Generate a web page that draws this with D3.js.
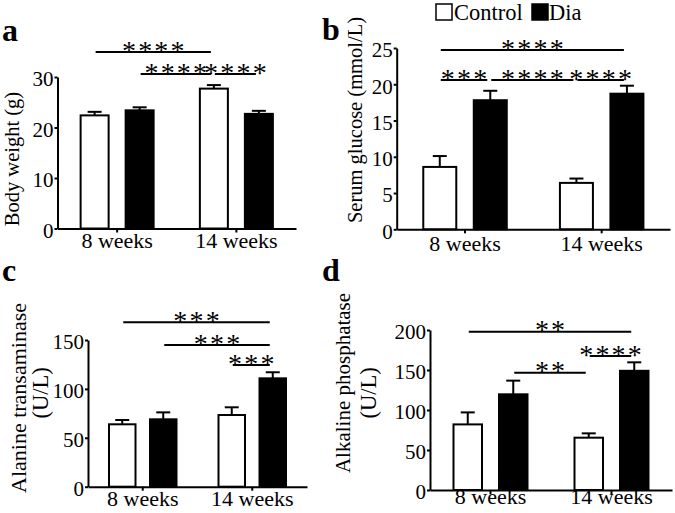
<!DOCTYPE html>
<html>
<head>
<meta charset="utf-8">
<script src="https://cdn.jsdelivr.net/npm/d3@7/dist/d3.min.js"></script>
<style>
  html, body { margin: 0; padding: 0; background: #fff; }
  svg { display: block; }
  svg text { font-family: "Liberation Serif", "Times New Roman", "Liberation Sans", Arial, sans-serif; fill: #000; }
</style>
</head>
<body>
<svg id="chart" width="675" height="513"></svg>
<script>
// ---------- data ----------
const groups = ["8 weeks", "14 weeks"];
const series = ["Control", "Dia"];

const weightControl = [22.4, 27.7];
const weightControlErr = [0.7, 0.7];
const weightDia = [23.4, 22.7];
const weightDiaErr = [0.6, 0.6];
const weightTicks = [0, 10, 20, 30];

const glucoseControl = [8.6, 6.4];
const glucoseControlErr = [1.5, 0.6];
const glucoseDia = [17.8, 18.7];
const glucoseDiaErr = [1.3, 1.1];
const glucoseTicks = [0, 5, 10, 15, 20, 25];

const altControl = [63.8, 73.3];
const altControlErr = [4.4, 7.9];
const altDia = [68.9, 110.8];
const altDiaErr = [7.1, 6.2];
const altTicks = [0, 50, 100, 150];

const alpControl = [82, 65.4];
const alpControlErr = [15, 5.4];
const alpDia = [119.6, 149];
const alpDiaErr = [17.1, 10.6];
const alpTicks = [0, 50, 100, 150, 200];

// significance comparisons: [group, series] -> [group, series], bracket rank, label
const weightSig = [
  { from: ["8 weeks", "Control"], to: ["14 weeks", "Control"], rank: 0, label: "****" },
  { from: ["8 weeks", "Dia"], to: ["14 weeks", "Control"], rank: 1, label: "****" },
  { from: ["14 weeks", "Control"], to: ["14 weeks", "Dia"], rank: 1, label: "****" }
];
const glucoseSig = [
  { from: ["8 weeks", "Control"], to: ["14 weeks", "Dia"], rank: 0, label: "****" },
  { from: ["8 weeks", "Control"], to: ["8 weeks", "Dia"], rank: 1, label: "***" },
  { from: ["8 weeks", "Dia"], to: ["14 weeks", "Control"], rank: 1, label: "****" },
  { from: ["14 weeks", "Control"], to: ["14 weeks", "Dia"], rank: 1, label: "****" }
];
const altSig = [
  { from: ["8 weeks", "Control"], to: ["14 weeks", "Dia"], rank: 0, label: "***" },
  { from: ["8 weeks", "Dia"], to: ["14 weeks", "Dia"], rank: 1, label: "***" },
  { from: ["14 weeks", "Control"], to: ["14 weeks", "Dia"], rank: 2, label: "***" }
];
const alpSig = [
  { from: ["8 weeks", "Control"], to: ["14 weeks", "Dia"], rank: 0, label: "**" },
  { from: ["14 weeks", "Control"], to: ["14 weeks", "Dia"], rank: 1, label: "****" },
  { from: ["8 weeks", "Dia"], to: ["14 weeks", "Control"], rank: 2, label: "**" }
];

// ---------- layout ----------
const panels = [
  {
    letter: "a", letterPos: [2, 41],
    values: [weightControl, weightDia], errs: [weightControlErr, weightDiaErr],
    ticks: weightTicks, sig: weightSig,
    xRange: [57.5, 296], yRange: [228.5, 77], bw: 28, sep: 45,
    rowY: [52, 74], xLabelY: 19.5,
    yLabels: [{ text: "Body weight (g)", x: 18.5, y: 159, size: 20.5 }]
  },
  {
    letter: "b", letterPos: [322, 40],
    values: [glucoseControl, glucoseDia], errs: [glucoseControlErr, glucoseDiaErr],
    ticks: glucoseTicks, sig: glucoseSig,
    xRange: [396.7, 670], yRange: [229.3, 48], bw: 33, sep: 50.5,
    rowY: [50, 80], xLabelY: 21.5,
    yLabels: [{ text: "Serum glucose (mmol/L)", x: 362, y: 120, size: 20.5 }]
  },
  {
    letter: "c", letterPos: [2, 281],
    values: [altControl, altDia], errs: [altControlErr, altDiaErr],
    ticks: altTicks, sig: altSig,
    xRange: [88, 307], yRange: [486.7, 340], bw: 26.5, sep: 41,
    rowY: [322.3, 345, 365], xLabelY: 19.5,
    yLabels: [
      { text: "Alanine transaminase", x: 26, y: 398, size: 22 },
      { text: "(U/L)", x: 47.5, y: 393, size: 22.5 }
    ]
  },
  {
    letter: "d", letterPos: [322, 281],
    values: [alpControl, alpDia], errs: [alpControlErr, alpDiaErr],
    ticks: alpTicks, sig: alpSig,
    xRange: [430, 672], yRange: [490, 330], bw: 28.5, sep: 45.5,
    rowY: [331.7, 356, 372.7], xLabelY: 14,
    yLabels: [
      { text: "Alkaline phosphatase", x: 350, y: 383, size: 21 },
      { text: "(U/L)", x: 376, y: 393, size: 22.5 }
    ]
  }
];

const svg = d3.select("#chart");
svg.append("rect").attr("width", 675).attr("height", 513).attr("fill", "#fff");

function drawPanel(cfg) {
  const g = svg.append("g");
  const x = d3.scaleBand().domain(groups).range(cfg.xRange).paddingInner(0).paddingOuter(0);
  const xs = d3.scalePoint().domain(series).range([-cfg.sep / 2, cfg.sep / 2]);
  const y = d3.scaleLinear().domain([0, d3.max(cfg.ticks)]).range(cfg.yRange);
  const xc = (grp, s) => x(grp) + x.bandwidth() / 2 + xs(s);

  const rows = [];
  series.forEach((s, si) => groups.forEach((grp, gi) => {
    rows.push({ grp, s, v: cfg.values[si][gi], e: cfg.errs[si][gi] });
  }));

  // error bars (upper only)
  g.selectAll("line.errv").data(rows).join("line")
    .attr("x1", d => xc(d.grp, d.s)).attr("x2", d => xc(d.grp, d.s))
    .attr("y1", d => y(d.v)).attr("y2", d => y(d.v + d.e))
    .attr("stroke", "#000").attr("stroke-width", 2);
  g.selectAll("line.errc").data(rows).join("line")
    .attr("x1", d => xc(d.grp, d.s) - 7).attr("x2", d => xc(d.grp, d.s) + 7)
    .attr("y1", d => y(d.v + d.e)).attr("y2", d => y(d.v + d.e))
    .attr("stroke", "#000").attr("stroke-width", 2);

  // bars
  g.selectAll("rect.bar").data(rows).join("rect")
    .attr("x", d => xc(d.grp, d.s) - cfg.bw / 2)
    .attr("y", d => y(d.v))
    .attr("width", cfg.bw)
    .attr("height", d => y(0) - y(d.v))
    .attr("fill", d => d.s === "Control" ? "#fff" : "#000")
    .attr("stroke", "#000").attr("stroke-width", 2);

  // y axis
  const ya = g.append("g")
    .attr("transform", `translate(${cfg.xRange[0]},0)`)
    .call(d3.axisLeft(y).tickValues(cfg.ticks).tickSize(3).tickSizeOuter(0).tickPadding(1).tickFormat(d3.format("d")));
  ya.attr("font-family", null);
  ya.select(".domain").attr("stroke-width", 2);
  ya.selectAll(".tick line").attr("stroke-width", 2);
  ya.selectAll(".tick text").attr("font-size", 21).attr("dy", "0.42em");

  // x axis
  const xa = g.append("g")
    .attr("transform", `translate(0,${y(0)})`)
    .call(d3.axisBottom(x).tickSize(4).tickSizeOuter(0));
  xa.attr("font-family", null);
  xa.select(".domain").attr("stroke-width", 2);
  xa.selectAll(".tick line").attr("stroke-width", 2);
  xa.selectAll(".tick text").attr("font-size", 22)
    .attr("y", cfg.xLabelY).attr("dy", 0);

  // significance brackets
  cfg.sig.forEach(c => {
    const x1 = xc(c.from[0], c.from[1]) + 1;
    const x2 = xc(c.to[0], c.to[1]) - 3;
    const ly = cfg.rowY[c.rank];
    g.append("line").attr("x1", x1).attr("x2", x2).attr("y1", ly).attr("y2", ly)
      .attr("stroke", "#000").attr("stroke-width", 2);
    g.append("text").attr("x", (x1 + x2) / 2 + 1.1).attr("y", ly + 7.5)
      .attr("text-anchor", "middle").attr("font-size", 28).attr("letter-spacing", 2.2)
      .text(c.label);
  });

  // y labels
  cfg.yLabels.forEach(l => {
    g.append("text").attr("transform", `translate(${l.x},${l.y}) rotate(-90)`)
      .attr("text-anchor", "middle").attr("font-size", l.size).text(l.text);
  });

  // panel letter
  g.append("text").attr("x", cfg.letterPos[0]).attr("y", cfg.letterPos[1])
    .attr("font-size", 32).attr("font-weight", "bold").text(cfg.letter);
}

panels.forEach(drawPanel);

// legend
const legendX = [436, 532];
const legendTextX = [454, 549];
const legend = svg.append("g");
series.forEach((s, i) => {
  legend.append("rect").attr("x", legendX[i]).attr("y", 4).attr("width", 16).attr("height", 16)
    .attr("fill", i === 0 ? "#fff" : "#000").attr("stroke", "#000").attr("stroke-width", 1.5);
  legend.append("text").attr("x", legendTextX[i]).attr("y", 20).attr("font-size", 22.5).text(s);
});
</script>
</body>
</html>
